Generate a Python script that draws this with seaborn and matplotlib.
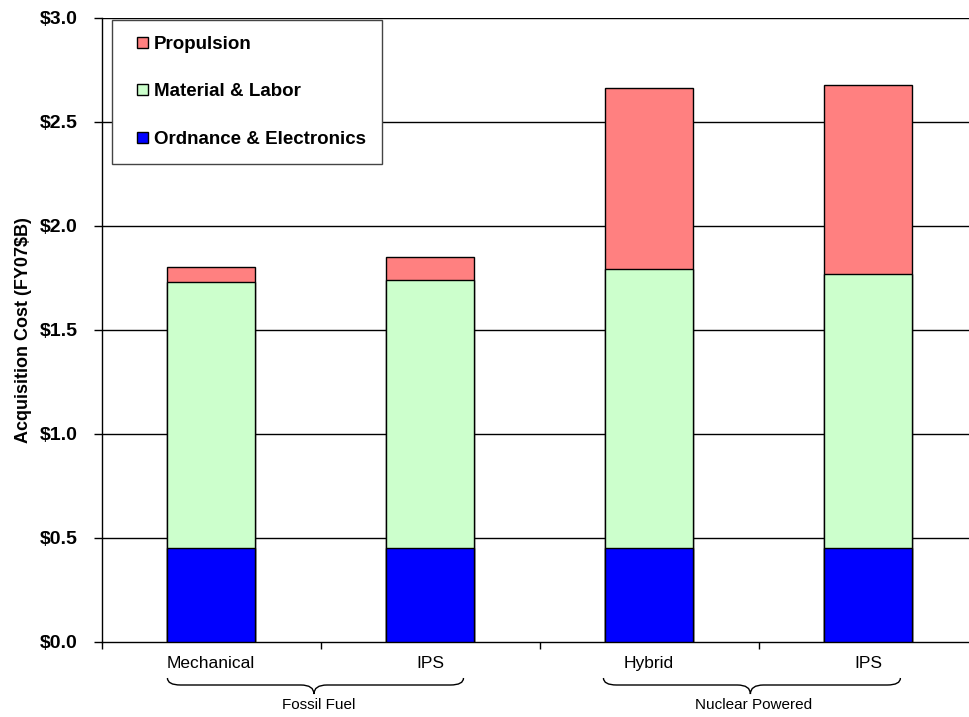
import matplotlib
matplotlib.use("Agg")
import matplotlib.pyplot as plt
import matplotlib.transforms as mtransforms
from matplotlib.patches import Patch, PathPatch, Rectangle
from matplotlib.path import Path
from matplotlib.legend_handler import HandlerPatch
import seaborn as sns
import pandas as pd

# Ship configurations (two fossil-fuel, two nuclear-powered)
configs = ["Mechanical", "IPS", "Hybrid", "IPS"]
groups = ["Fossil Fuel", "Nuclear Powered"]

# Acquisition cost components, FY07 $B
ordnance = [0.45, 0.45, 0.45, 0.45]
material_labor = [1.28, 1.29, 1.345, 1.32]
propulsion = [0.075, 0.11, 0.87, 0.91]

y_ticks = [0.0, 0.5, 1.0, 1.5, 2.0, 2.5, 3.0]
y_tick_labels = ["$0.0", "$0.5", "$1.0", "$1.5", "$2.0", "$2.5", "$3.0"]

series_names = ["Propulsion", "Material & Labor", "Ordnance & Electronics"]
series_colors = ["#FF8080", "#CCFFCC", "#0000FF"]

sns.set_style("white")
plt.rcParams["font.family"] = ["Liberation Sans", "DejaVu Sans"]
for key in ["text.color", "axes.labelcolor", "xtick.color", "ytick.color"]:
    plt.rcParams[key] = "black"

slots = list(range(len(configs)))
level1 = ordnance
level2 = [o + m for o, m in zip(ordnance, material_labor)]
level3 = [l + p for l, p in zip(level2, propulsion)]
df = pd.DataFrame({"slot": slots, "top": level3, "mid": level2, "base": level1})

W, H = 969, 717
fig = plt.figure(figsize=(W / 100, H / 100), dpi=100)
ax = fig.add_axes([101.5 / W, (H - 642) / H, 876 / W, 624 / H])
ax.set_axisbelow(True)

# Stacked bars drawn as overlapping cumulative heights, tallest first
for col, color in zip(["top", "mid", "base"], series_colors):
    sns.barplot(data=df, x="slot", y=col, color=color, width=0.4,
                edgecolor="black", linewidth=1.0, saturation=1,
                ax=ax, zorder=3)

ax.set_xlim(-0.5, len(configs) - 0.5)
ax.set_ylim(0, 3.0)

# Horizontal gridlines
for yv in y_ticks[1:]:
    ax.axhline(yv, color="black", linewidth=1.0, zorder=1)

ax.set_yticks(y_ticks)
ax.set_yticklabels(y_tick_labels, fontsize=14, fontweight="bold")
ax.tick_params(axis="y", direction="out", length=6, width=1, pad=11,
               colors="black", left=True)

# Category ticks at boundaries, labels at centres
ax.set_xticks([i - 0.5 for i in range(len(configs) + 1)])
ax.set_xticklabels([""] * (len(configs) + 1))
ax.set_xticks(slots, minor=True)
ax.set_xticklabels(configs, minor=True, fontsize=12.5)
ax.tick_params(axis="x", which="major", direction="out", length=5, width=1,
               colors="black", bottom=True)
ax.tick_params(axis="x", which="minor", length=0, pad=10, colors="black")

ax.set_xlabel("")
ax.set_ylabel("Acquisition Cost (FY07$B)", fontsize=13, fontweight="bold",
              labelpad=6, color="black")

for side in ["top", "right"]:
    ax.spines[side].set_visible(False)
for side in ["left", "bottom"]:
    ax.spines[side].set_color("black")
    ax.spines[side].set_linewidth(1.0)


# Legend swatches: small squares set against the right end of the handle box
def square_swatch(legend, orig_handle, xdescent, ydescent, width, height, fontsize):
    s = 8.0
    return Rectangle((-xdescent + width - s, -ydescent + (height - s) / 2), s, s)


handles = [Patch(facecolor=c, edgecolor="black", linewidth=1.0)
           for c in series_colors]
leg = ax.legend(handles, series_names, loc="upper left",
                bbox_to_anchor=((112 - 101.5) / 876, (642 - 20) / 624),
                borderaxespad=0, frameon=True, fancybox=False,
                framealpha=1, edgecolor="#444444",
                prop={"family": "Liberation Sans", "weight": "bold", "size": 13.5},
                handlelength=1.07, handleheight=0.65, handletextpad=0.32,
                labelspacing=1.62, borderpad=0.85,
                handler_map={Patch: HandlerPatch(patch_func=square_swatch)})
leg.get_frame().set_linewidth(1.0)
leg.set_zorder(5)
for t in leg.get_texts():
    t.set_color("black")

# Group braces under the category labels
trans = mtransforms.blended_transform_factory(ax.transData, fig.transFigure)


def fy(ypx):
    return (H - ypx) / H


def brace(x0, x1, xtip, y_end=678, y_mid=685, y_tip=694, d=0.06):
    verts = [
        (x0, fy(y_end)),
        (x0, fy(y_mid)), (x0 + d, fy(y_mid)),
        (xtip - d, fy(y_mid)),
        (xtip, fy(y_mid)), (xtip, fy(y_tip)),
        (xtip, fy(y_mid)), (xtip + d, fy(y_mid)),
        (x1 - d, fy(y_mid)),
        (x1, fy(y_mid)), (x1, fy(y_end)),
    ]
    codes = [Path.MOVETO,
             Path.CURVE3, Path.CURVE3,
             Path.LINETO,
             Path.CURVE3, Path.CURVE3,
             Path.CURVE3, Path.CURVE3,
             Path.LINETO,
             Path.CURVE3, Path.CURVE3]
    patch = PathPatch(Path(verts, codes), transform=trans, fill=False,
                      edgecolor="black", linewidth=1.0, clip_on=False)
    fig.add_artist(patch)


brace(-0.199, 1.153, 0.47)
brace(1.792, 3.148, 2.463)

group_centres = [0.49, 2.477]
for name, xc in zip(groups, group_centres):
    fig.text(xc, fy(705), name, transform=trans, fontsize=11,
             color="black", ha="center", va="center")

fig.savefig("out.png", dpi=100)
